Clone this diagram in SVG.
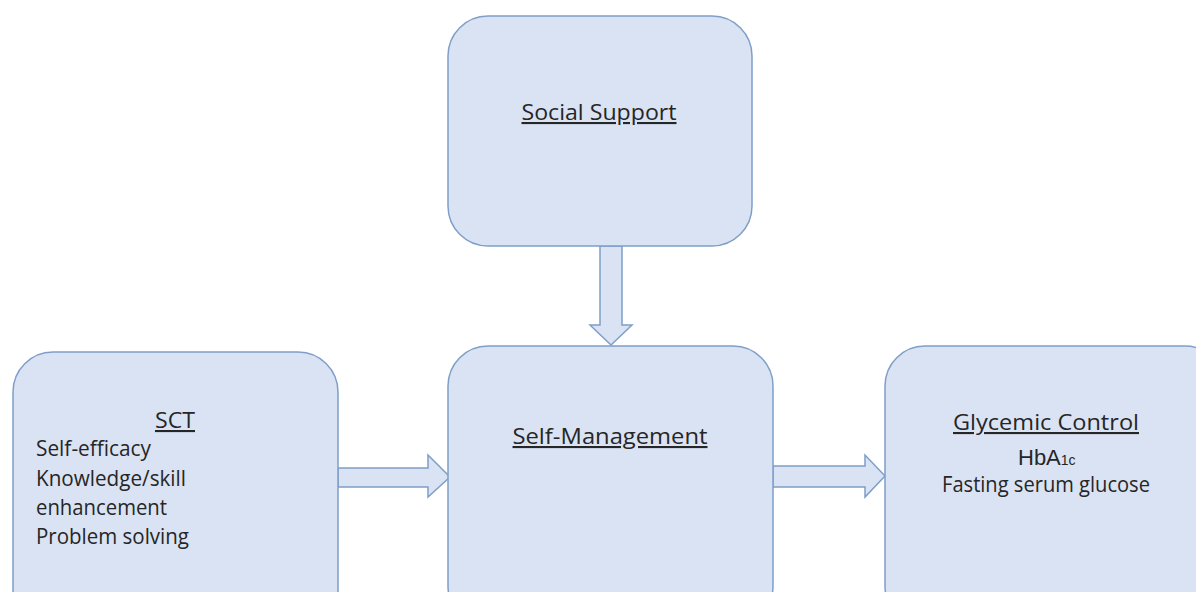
<svg xmlns="http://www.w3.org/2000/svg" width="1196" height="592" viewBox="0 0 1196 592">
<style>
.box{fill:#dae3f3;stroke:#7f9fc8;stroke-width:1.5}
.arr{fill:#dae3f3;stroke:#7f9fc8;stroke-width:1.5;stroke-linejoin:miter}
.t{font-family:"Open Sans","Liberation Sans",sans-serif;fill:#262626;font-size:21px}
.h{text-decoration:underline}
</style>
<rect width="1196" height="592" fill="#ffffff"/>
<g id="connectors">
<path class="arr" d="M600,246 L622,246 L622,325 L632,325 L611,345 L590,325 L600,325 Z"/>
<path class="arr" d="M338,468 L428,468 L428,455 L450,477 L428,497 L428,487 L338,487 Z"/>
<path class="arr" d="M773,466 L865,466 L865,455 L885,476 L865,497 L865,487 L773,487 Z"/>
</g>
<g id="social-support">
<rect class="box" x="448" y="16" width="304" height="230" rx="40"/>
<text class="t h" x="599" y="120" text-anchor="middle" textLength="155" lengthAdjust="spacingAndGlyphs">Social Support</text>
</g>
<g id="sct">
<rect class="box" x="13" y="352" width="325" height="280" rx="40"/>
<text class="t h" x="175" y="428" text-anchor="middle" textLength="40" lengthAdjust="spacingAndGlyphs">SCT</text>
<text class="t" x="36" y="456" textLength="115" lengthAdjust="spacingAndGlyphs">Self-efficacy</text>
<text class="t" x="36" y="486" textLength="150" lengthAdjust="spacingAndGlyphs">Knowledge/skill</text>
<text class="t" x="36" y="515" textLength="131" lengthAdjust="spacingAndGlyphs">enhancement</text>
<text class="t" x="36" y="544" textLength="153" lengthAdjust="spacingAndGlyphs">Problem solving</text>
</g>
<g id="self-management">
<rect class="box" x="448" y="346" width="325" height="280" rx="40"/>
<text class="t h" x="610" y="444" text-anchor="middle" textLength="195" lengthAdjust="spacingAndGlyphs">Self-Management</text>
</g>
<g id="glycemic-control">
<rect class="box" x="885" y="346" width="340" height="280" rx="40"/>
<text class="t h" x="1046" y="430" text-anchor="middle" textLength="186" lengthAdjust="spacingAndGlyphs">Glycemic Control</text>
<text x="1018" y="465" font-family="'Liberation Sans',Arial,sans-serif" font-size="22" fill="#262626">HbA<tspan font-size="14">1c</tspan></text>
<text class="t" x="1046" y="492" text-anchor="middle" textLength="208" lengthAdjust="spacingAndGlyphs">Fasting serum glucose</text>
</g>
</svg>
